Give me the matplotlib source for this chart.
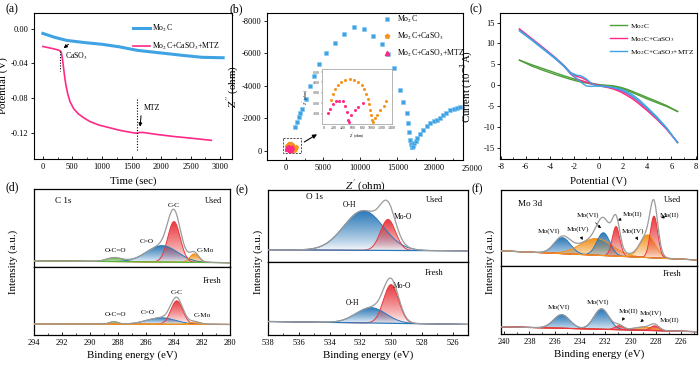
import numpy as np
import matplotlib.pyplot as plt
from matplotlib.colors import to_rgb
from matplotlib.patches import PathPatch, Rectangle
from matplotlib.ticker import MultipleLocator, FormatStrFormatter

plt.rcParams['font.family'] = 'Liberation Serif'
plt.rcParams['mathtext.fontset'] = 'stix'
plt.rcParams['axes.unicode_minus'] = False

# ---------------- data ----------------
# (a) open-circuit potential vs time
t_mo2c = [0, 200, 400, 700, 1000, 1300, 1600, 2000, 2400, 2700, 3050]
v_mo2c = [-0.0055, -0.010, -0.0135, -0.016, -0.018, -0.021, -0.025, -0.028, -0.031, -0.033, -0.0335]
t_mtz = [0, 100, 200, 280, 310, 330, 350, 370, 390, 420, 460, 520, 600, 700, 800,
         950, 1100, 1300, 1500, 1600, 1630, 1700, 1900, 2200, 2500, 2850]
v_mtz = [-0.0205, -0.022, -0.0235, -0.025, -0.027, -0.034, -0.045, -0.056, -0.065, -0.075,
         -0.084, -0.092, -0.098, -0.103, -0.107, -0.111, -0.1135, -0.117, -0.1195, -0.1205,
         -0.1195, -0.1195, -0.1215, -0.124, -0.126, -0.1285]
event_t = [290, 1600]

# (b) Nyquist plots
zr_mo2c = [1250, 1480, 1700, 1920, 2150, 2680, 3180, 3710, 4480, 5420, 6540, 7880, 9220,
           10570, 11780, 12940, 13750, 14600, 15360, 15810, 16260, 16480, 16610, 16710,
           16800, 16900, 17000, 17100, 17250, 17450, 17700, 18000, 18500, 19000, 19400,
           19900, 20300, 20700, 21200, 21600, 22100, 22600, 23000, 23400]
zi_mo2c = [-1480, -1790, -2090, -2300, -2570, -3160, -3980, -4620, -5320, -5990, -6610,
           -7180, -7630, -7490, -7080, -6550, -5950, -5070, -3740, -3020, -2300, -1690,
           -1170, -660, -400, -250, -200, -280, -450, -620, -800, -1000, -1270, -1500,
           -1690, -1800, -1890, -2000, -2200, -2320, -2500, -2570, -2630, -2670]
zr_caso3 = [150, 179, 229, 286, 357, 443, 536, 629, 714, 786, 843, 879, 914, 943, 964,
            986, 1000, 1014, 1057, 1107, 1178, 1250, 1300]
zi_caso3 = [-234, -288, -334, -375, -406, -428, -438, -428, -406, -375, -334, -288, -241,
            -194, -131, -84, -38, -16, -53, -84, -131, -178, -225]
zr_mtz = [90, 130, 180, 250, 320, 390, 440, 480, 500, 515, 570, 640, 710, 820]
zi_mtz = [-106, -147, -194, -219, -225, -219, -178, -116, -38, -22, -84, -131, -163, -200]

# (c) I-V curves (two sweep branches each)
v_iv = [-6.5, -5.5, -4.5, -3.5, -2.8, -2.3, -1.8, -1.4, -1.0, -0.6, -0.2, 0.3, 0.8, 1.3,
        1.8, 2.3, 2.8, 3.3, 4.0, 4.8, 5.6, 6.5]
i_mo2c_1 = [6.0, 4.9, 3.9, 2.9, 2.2, 1.75, 1.3, 1.0, 0.7, 0.45, 0.25, 0.05, -0.05, -0.2,
            -0.5, -0.95, -1.5, -2.1, -2.95, -3.9, -4.9, -6.3]
i_mo2c_2 = [6.0, 4.6, 3.5, 2.5, 1.85, 1.4, 1.0, 0.75, 0.5, 0.3, 0.1, -0.05, -0.15, -0.35,
            -0.7, -1.2, -1.8, -2.4, -3.3, -4.2, -5.1, -6.3]
i_caso3_1 = [13.5, 11.2, 8.9, 6.5, 4.6, 3.0, 2.1, 1.8, 1.2, 0.5, 0.1, -0.2, -0.45, -0.8,
             -1.3, -2.0, -2.9, -4.0, -5.8, -8.0, -10.4, -13.7]
i_caso3_2 = [13.3, 11.0, 8.7, 6.3, 4.4, 2.7, 1.5, 1.1, 0.7, 0.3, 0.0, -0.3, -0.6, -1.0,
             -1.6, -2.4, -3.3, -4.4, -6.1, -8.2, -10.6, -13.7]
i_mtz_1 = [13.2, 11.0, 8.7, 6.4, 4.6, 3.0, 2.4, 2.2, 1.5, 0.4, -0.1, -0.3, -0.4, -0.6,
           -0.9, -1.5, -2.3, -3.4, -5.3, -7.6, -10.2, -13.8]
i_mtz_2 = [13.0, 10.8, 8.5, 6.2, 4.4, 2.8, 1.6, 0.6, -0.2, -0.3, -0.2, -0.2, -0.35, -0.7,
           -1.1, -1.8, -2.7, -3.8, -5.6, -7.9, -10.4, -13.8]

# (d)-(f) XPS fitted components: centre (eV), height (a.u.), FWHM (eV)
c1s_names = ['O-C=O', 'C=O', 'C-C', 'C-Mo']
c1s_used_c = [288.25, 284.85, 284.0, 282.55]
c1s_used_h = [0.05, 0.21, 0.52, 0.11]
c1s_used_w = [1.3, 2.6, 1.05, 0.75]
c1s_used_bg = [0.08, 0.055]
c1s_fresh_c = [288.3, 284.9, 283.8, 282.5]
c1s_fresh_h = [0.035, 0.095, 0.345, 0.035]
c1s_fresh_w = [0.7, 2.4, 1.0, 0.9]
c1s_fresh_bg = [0.165, 0.155]

o1s_names = ['O-H', 'Mo-O']
o1s_used_c = [531.8, 530.2]
o1s_used_h = [0.55, 0.43]
o1s_used_w = [3.0, 1.15]
o1s_used_bg = [0.17, 0.155]
o1s_fresh_c = [531.3, 530.0]
o1s_fresh_h = [0.21, 0.53]
o1s_fresh_w = [2.3, 1.15]
o1s_fresh_bg = [0.185, 0.145]

mo3d_names = ['Mo(VI)', 'Mo(IV)', 'Mo(VI)', 'Mo(II)', 'Mo(IV)', 'Mo(II)']
mo3d_used_c = [235.4, 232.7, 232.15, 231.15, 228.65, 228.15]
mo3d_used_h = [0.21, 0.22, 0.30, 0.39, 0.30, 0.55]
mo3d_used_w = [1.5, 3.0, 1.2, 0.7, 1.4, 0.7]
mo3d_used_bg = [0.2, 0.08]
mo3d_fresh_c = [235.45, 232.3, 230.9, 228.9, 228.1]
mo3d_fresh_h = [0.20, 0.30, 0.06, 0.05, 0.07]
mo3d_fresh_w = [1.5, 1.4, 0.8, 1.8, 0.8]
mo3d_fresh_bg = [0.107, 0.034]

# ---------------- styling ----------------
BLUE_L = '#3fa3e3'
PINK = '#ff2a86'
ORANGE = '#f7931e'
GREEN = '#4e9e3a'
XB = '#2a78b8'
XR = '#e8383d'
XO = '#f3911c'
XG = '#5bb339'

TICK = 6.0
LAB = 7.8
LEG = 5.6
ANN = 5.2

fig = plt.figure(figsize=(7, 3.65), dpi=100)


def pos(l, t, r, b):
    return [l / 700, 1 - b / 365, (r - l) / 700, (b - t) / 365]


def style(ax):
    for s in ax.spines.values():
        s.set_linewidth(0.8)
    ax.tick_params(axis='x', direction='in', length=2.5, width=0.6, labelsize=TICK, pad=3)
    ax.tick_params(axis='x', which='minor', direction='in', length=1.5, width=0.5)
    ax.tick_params(axis='y', direction='out', length=2.5, width=0.6, labelsize=TICK, pad=1.5)


def gauss(x, c, h, w):
    s = w / 2.3548
    return h * np.exp(-(x - c) ** 2 / (2 * s ** 2))


def grad_fill(ax, x, y0, y1, color, z):
    poly = ax.fill_between(x, y0, y1, facecolor='none', edgecolor='none')
    clip = PathPatch(poly.get_paths()[0], transform=ax.transData,
                     facecolor='none', edgecolor='none')
    ax.add_patch(clip)
    rgba = np.ones((64, 1, 4))
    rgba[:, 0, :3] = to_rgb(color)
    rgba[:, 0, 3] = np.linspace(0.0, 1.0, 64) ** 0.8
    im = ax.imshow(rgba, extent=[x.min(), x.max(), y0.min(), y1.max()], origin='lower',
                   aspect='auto', zorder=z, interpolation='bilinear')
    im.set_clip_path(clip)


def xps(ax, xlim, cs, hs, ws, cols, bg, bgcol, order):
    x = np.linspace(min(xlim), max(xlim), 700)
    base = np.interp(x, [min(xlim), max(xlim)], [bg[1], bg[0]])
    total = base.copy()
    for k in order:
        comp = gauss(x, cs[k], hs[k], ws[k])
        grad_fill(ax, x, base, base + comp, cols[k], 2 + k * 0.1)
        ax.plot(x, base + comp, color=cols[k], lw=0.7, zorder=3)
        total += comp
    ax.plot(x, base, color=bgcol, lw=0.9, zorder=3.5)
    ax.plot(x, total, color='#9b9b9b', lw=0.9, zorder=4)
    ax.set_xlim(*xlim)
    ax.set_ylim(0, 1)
    ax.set_yticks([])
    for s in ax.spines.values():
        s.set_linewidth(0.9)


def xps_xaxis(ax, ticks):
    ax.set_xticks(ticks)
    ax.xaxis.set_minor_locator(MultipleLocator(1))
    ax.tick_params(axis='x', direction='in', length=2.5, width=0.6, labelsize=TICK, pad=3)
    ax.tick_params(axis='x', which='minor', direction='in', length=1.5, width=0.5)
    ax.set_xlabel('Binding energy (eV)', fontsize=LAB, labelpad=2.5)


# ---------------- (a) ----------------
ax = fig.add_axes(pos(34, 13, 232, 159))
ax.plot(t_mo2c, v_mo2c, color=BLUE_L, lw=2.2, label='Mo$_2$C')
ax.plot(t_mtz, v_mtz, color=PINK, lw=1.2, label='Mo$_2$C+CaSO$_3$+MTZ')
ax.plot([event_t[0]] * 2, [-0.026, -0.049], ls=(0, (1, 1.5)), color='k', lw=0.8)
ax.plot([event_t[1]] * 2, [-0.081, -0.14], ls=(0, (1, 1.5)), color='k', lw=0.8)
ax.annotate('', xy=(315, -0.0245), xytext=(470, -0.016),
            arrowprops=dict(arrowstyle='-|>', color='k', lw=0.7, mutation_scale=5))
ax.text(380, -0.032, 'CaSO$_3$', fontsize=ANN + 0.4, va='center', ha='left')
ax.annotate('', xy=(1640, -0.116), xytext=(1665, -0.097),
            arrowprops=dict(arrowstyle='-|>', color='k', lw=0.7, mutation_scale=5))
ax.text(1700, -0.091, 'MTZ', fontsize=ANN + 0.4, va='center', ha='left')
ax.set_xlim(-150, 3200)
ax.set_ylim(-0.150, 0.018)
ax.set_xticks(range(0, 3001, 500))
ax.xaxis.set_minor_locator(MultipleLocator(250))
ax.set_yticks([0.0, -0.04, -0.08, -0.12])
ax.yaxis.set_major_formatter(FormatStrFormatter('%.2f'))
style(ax)
ax.set_xlabel('Time (sec)', fontsize=LAB, labelpad=4)
ax.set_ylabel('Potential (V)', fontsize=LAB)
ax.yaxis.set_label_coords(-0.13, 0.5)
ax.legend(loc='upper left', bbox_to_anchor=(0.48, 0.96), frameon=False, fontsize=LEG,
          handlelength=2.2, handletextpad=0.3, borderpad=0, labelspacing=0.85)

# ---------------- (b) ----------------
ax = fig.add_axes(pos(267, 13, 463, 160))
ax.plot(zr_mo2c, zi_mo2c, 's', ms=3.2, color=BLUE_L, mec='#7cc4f2', mew=0.4, ls='none',
        label='Mo$_2$C')
ax.plot(zr_caso3, zi_caso3, 'p', ms=2.8, color=ORANGE, ls='none', label='Mo$_2$C+CaSO$_3$')
ax.plot(zr_mtz, zi_mtz, '^', ms=2.8, color=PINK, ls='none', label='Mo$_2$C+CaSO$_3$+MTZ')
ax.add_patch(Rectangle((-400, -760), 2400, 920, fill=False, ls=(0, (2.5, 1.5)), lw=0.6,
                       ec='#333333'))
ax.annotate('', xy=(4500, -1100), xytext=(2150, -450),
            arrowprops=dict(arrowstyle='-|>', color='k', lw=0.8, mutation_scale=6))
ax.set_xlim(-2550, 23830)
ax.set_ylim(570, -8470)
ax.set_xticks([0, 5000, 10000, 15000, 20000])
ax.xaxis.set_minor_locator(MultipleLocator(2500))
ax.set_yticks([-8000, -6000, -4000, -2000, 0])
style(ax)
ax.text(25000, -0.062, '25000', transform=ax.get_xaxis_transform(), fontsize=TICK,
        ha='center', va='center')
ax.set_xlabel("$Z'$ (ohm)", fontsize=LAB, labelpad=4)
ax.set_ylabel("$Z''$ (ohm)", fontsize=LAB)
ax.yaxis.set_label_coords(-0.135, 0.5)
ax.legend(loc='upper left', bbox_to_anchor=(0.57, 1.02), frameon=False, fontsize=LEG,
          handlelength=1.2, handletextpad=0.6, borderpad=0, labelspacing=0.75, markerscale=1.1)

# inset
ins = fig.add_axes(pos(322, 69, 392, 124))
ins.plot(zr_caso3, zi_caso3, 'o', ms=1.2, color=ORANGE, ls='none')
ins.plot(zr_mtz, zi_mtz, 'o', ms=1.2, color=PINK, ls='none')
ins.set_xlim(-40, 1420)
ins.set_ylim(0, -530)
ins.set_xticks(range(0, 1401, 200))
ins.set_yticks([-500, -400, -300, -200, -100])
for s in ins.spines.values():
    s.set_color('#aaaaaa')
    s.set_linewidth(0.6)
ins.tick_params(labelsize=2.8, length=1, width=0.3, pad=0.8, colors='#333333')
ins.set_xlabel("$Z'$ (ohm)", fontsize=2.8, labelpad=0.5)
ins.set_ylabel("$Z''$ (ohm)", fontsize=2.8, labelpad=0.5)

# ---------------- (c) ----------------
ax = fig.add_axes(pos(500, 13, 697, 159))
ax.plot(v_iv, i_mo2c_1, color=GREEN, lw=1.0, label='Mo$_2$C')
ax.plot(v_iv, i_mo2c_2, color=GREEN, lw=1.0)
ax.plot(v_iv, i_caso3_1, color=PINK, lw=1.0, label='Mo$_2$C+CaSO$_3$')
ax.plot(v_iv, i_caso3_2, color=PINK, lw=1.0)
ax.plot(v_iv, i_mtz_1, color=BLUE_L, lw=1.0, label='Mo$_2$C+CaSO$_3$+MTZ')
ax.plot(v_iv, i_mtz_2, color=BLUE_L, lw=1.0)
ax.set_xlim(-8.1, 8.1)
ax.set_ylim(-17.7, 17.3)
ax.set_xticks(range(-8, 9, 2))
ax.xaxis.set_minor_locator(MultipleLocator(1))
ax.set_yticks(range(-15, 16, 5))
style(ax)
ax.set_xlabel('Potential (V)', fontsize=LAB, labelpad=4)
ax.set_ylabel('Current (10$^{-3}$A)', fontsize=LAB)
ax.yaxis.set_label_coords(-0.125, 0.5)
ax.legend(loc='upper left', bbox_to_anchor=(0.54, 0.965), frameon=False, fontsize=5.3,
          handlelength=2.3, handletextpad=0.4, borderpad=0, labelspacing=0.55)

# ---------------- (d) C 1s ----------------
c1s_cols = [XG, XB, XR, XO]
du = fig.add_axes(pos(34, 189, 230, 267))
df = fig.add_axes(pos(34, 267, 230, 335))
xps(du, (294, 280), c1s_used_c, c1s_used_h, c1s_used_w, c1s_cols, c1s_used_bg, XG, [0, 1, 2, 3])
xps(df, (294, 280), c1s_fresh_c, c1s_fresh_h, c1s_fresh_w, c1s_cols, c1s_fresh_bg, XO, [0, 1, 2, 3])
du.set_xticks([])
xps_xaxis(df, range(294, 279, -2))
du.text(292.5, 0.84, 'C 1s', fontsize=6.6, va='center')
du.text(280.6, 0.84, 'Used', fontsize=6.0, va='center', ha='right')
df.text(280.6, 0.80, 'Fresh', fontsize=6.0, va='center', ha='right')
for ax_, lbls in ((du, [(288.2, 0.21), (285.95, 0.33), (284.0, 0.79), (281.75, 0.21)]),
                  (df, [(288.2, 0.295), (285.9, 0.33), (283.8, 0.62), (282.0, 0.28)])):
    for name, (px, py) in zip(c1s_names, lbls):
        ax_.text(px, py, name, fontsize=ANN, ha='center', va='center')
fig.text(13 / 700, 1 - 262 / 365, 'Intensity (a.u.)', rotation=90, fontsize=LAB,
         ha='center', va='center')

# ---------------- (e) O 1s ----------------
o1s_cols = [XB, XR]
eu = fig.add_axes(pos(268, 190, 468, 262))
ef = fig.add_axes(pos(268, 262, 468, 335))
xps(eu, (538, 525), o1s_used_c, o1s_used_h, o1s_used_w, o1s_cols, o1s_used_bg, XB, [0, 1])
xps(ef, (538, 525), o1s_fresh_c, o1s_fresh_h, o1s_fresh_w, o1s_cols, o1s_fresh_bg, XB, [0, 1])
eu.set_xticks([])
xps_xaxis(ef, range(538, 525, -2))
eu.text(535.0, 0.9, 'O 1s', fontsize=6.6, va='center', ha='center')
eu.text(526.6, 0.86, 'Used', fontsize=6.0, va='center', ha='right')
ef.text(526.6, 0.85, 'Fresh', fontsize=6.0, va='center', ha='right')
eu.text(532.7, 0.79, 'O-H', fontsize=ANN + 0.3, ha='center', va='center')
eu.text(529.2, 0.62, 'Mo-O', fontsize=ANN + 0.3, ha='center', va='center')
ef.text(532.5, 0.44, 'O-H', fontsize=ANN + 0.3, ha='center', va='center')
ef.text(529.3, 0.67, 'Mo-O', fontsize=ANN + 0.3, ha='center', va='center')
fig.text(258 / 700, 1 - 262 / 365, 'Intensity (a.u.)', rotation=90, fontsize=LAB,
         ha='center', va='center')

# ---------------- (f) Mo 3d ----------------
mo_used_cols = [XB, XO, XB, XR, XO, XR]
mo_fresh_cols = [XB, XB, XR, XO, XR]
fu = fig.add_axes(pos(501, 190, 697, 266))
ff = fig.add_axes(pos(501, 266, 697, 334))
xps(fu, (240.25, 224.75), mo3d_used_c, mo3d_used_h, mo3d_used_w, mo_used_cols, mo3d_used_bg,
    XO, [0, 1, 2, 3, 4, 5])
xps(ff, (240.25, 224.75), mo3d_fresh_c, mo3d_fresh_h, mo3d_fresh_w, mo_fresh_cols,
    mo3d_fresh_bg, XR, [0, 1, 2, 3, 4])
fu.set_xticks([])
xps_xaxis(ff, range(240, 225, -2))
fu.text(238.9, 0.82, 'Mo 3d', fontsize=6.6, va='center')
fu.text(226.0, 0.87, 'Used', fontsize=6.0, va='center', ha='right')
ff.text(226.0, 0.88, 'Fresh', fontsize=6.0, va='center', ha='right')
arr = dict(arrowstyle='-|>', color='k', lw=0.5, mutation_scale=4)
fu.text(236.45, 0.46, 'Mo(VI)', fontsize=ANN, ha='center', va='center')
fu.annotate('Mo(IV)', xy=(233.7, 0.31), xytext=(234.2, 0.48), fontsize=ANN, ha='center',
            va='center', arrowprops=arr)
fu.annotate('Mo(VI)', xy=(232.2, 0.47), xytext=(233.35, 0.67), fontsize=ANN, ha='center',
            va='center', arrowprops=arr)
fu.annotate('Mo(II)', xy=(231.0, 0.6), xytext=(229.85, 0.68), fontsize=ANN, ha='center',
            va='center', arrowprops=arr)
fu.annotate('Mo(IV)', xy=(229.3, 0.31), xytext=(229.85, 0.46), fontsize=ANN, ha='center',
            va='center', arrowprops=arr)
fu.annotate('Mo(II)', xy=(227.8, 0.62), xytext=(226.9, 0.67), fontsize=ANN, ha='center',
            va='center', arrowprops=arr)
ff.text(235.7, 0.39, 'Mo(VI)', fontsize=ANN, ha='center', va='center')
ff.text(232.6, 0.475, 'Mo(VI)', fontsize=ANN, ha='center', va='center')
ff.annotate('Mo(II)', xy=(230.8, 0.16), xytext=(230.2, 0.33), fontsize=ANN, ha='center',
            va='center', arrowprops=arr)
ff.annotate('Mo(IV)', xy=(229.4, 0.15), xytext=(228.4, 0.30), fontsize=ANN, ha='center',
            va='center', arrowprops=arr)
ff.text(226.9, 0.2, 'Mo(II)', fontsize=ANN, ha='center', va='center')
fig.text(490 / 700, 1 - 262 / 365, 'Intensity (a.u.)', rotation=90, fontsize=LAB,
         ha='center', va='center')

# ---------------- panel letters ----------------
for lbl, px, py in (('(a)', 5, 9), ('(b)', 230, 9), ('(c)', 470, 9),
                    ('(d)', 6, 187), ('(e)', 236, 190), ('(f)', 471, 189.5)):
    fig.text(px / 700, 1 - py / 365, lbl, fontsize=8.5, ha='left', va='center')

plt.savefig('out.png', dpi=100)
plt.close()
